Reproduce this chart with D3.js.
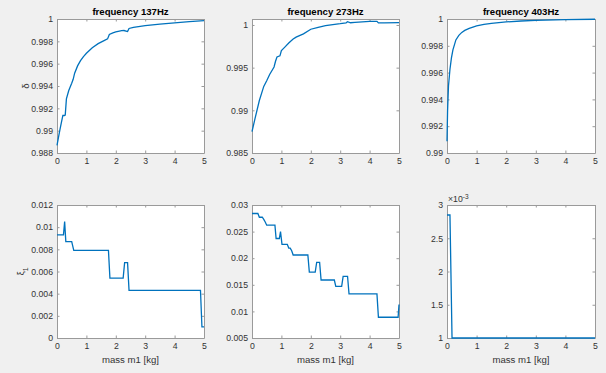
<!DOCTYPE html>
<html lang="en">
<head>
<meta charset="UTF-8">
<title>Delta and xi vs mass m1</title>
<style>
  body { margin: 0; background: #f0f0f0; }
  svg { display: block; font-family: "Liberation Sans", Arial, sans-serif; }
  .line { fill: none; stroke: #0072bd; stroke-width: 1.3px; }
  .tick-label { font-size: 8.7px; fill: #333; }
  .title { font-size: 9.6px; font-weight: bold; fill: #000; text-anchor: middle; }
  .label { font-size: 9.6px; fill: #333; text-anchor: middle; }
</style>
</head>
<body>
<svg width="606" height="373"></svg>
<script src="https://d3js.org/d3.v7.min.js"></script>
<script>
// x ticks shared by all panels
const massTicks = [0, 1, 2, 3, 4, 5];

// delta, 137 Hz
const mass137d = [0, 0.05, 0.1, 0.15, 0.2, 0.25, 0.28, 0.32, 0.4, 0.5, 0.55, 0.6, 0.7, 0.8, 0.9, 1.0, 1.2, 1.4, 1.6, 1.72, 1.78, 1.9, 2.0, 2.2, 2.28, 2.4, 2.45, 2.6, 3.0, 3.5, 4.0, 4.5, 5.0];
const delta137 = [0.98869, 0.9894, 0.9901, 0.99075, 0.99136, 0.99136, 0.9914, 0.99285, 0.9936, 0.99425, 0.9946, 0.99515, 0.9958, 0.99627, 0.99663, 0.99693, 0.99743, 0.99779, 0.99806, 0.99822, 0.99862, 0.99876, 0.99884, 0.99896, 0.99897, 0.99888, 0.99915, 0.99925, 0.9994, 0.99954, 0.99966, 0.99976, 0.99985];
const deltaTicks137 = [0.988, 0.99, 0.992, 0.994, 0.996, 0.998, 1];

// delta, 273 Hz
const mass273d = [0, 0.1, 0.25, 0.4, 0.5, 0.6, 0.75, 0.8, 0.85, 0.95, 1.0, 1.1, 1.25, 1.4, 1.5, 1.75, 2.0, 2.25, 2.5, 2.75, 3.0, 3.2, 3.25, 3.35, 3.5, 4.0, 4.25, 4.3, 4.5, 5.0];
const delta273 = [0.9875, 0.989, 0.99115, 0.9928, 0.99346, 0.9942, 0.99508, 0.99575, 0.99625, 0.99638, 0.997, 0.99735, 0.99788, 0.99835, 0.99858, 0.99896, 0.9995, 0.99972, 0.99992, 1.00005, 1.00015, 1.00025, 1.00038, 1.00026, 1.0003, 1.00042, 1.00042, 1.00025, 1.00025, 1.00028];
const deltaTicks273 = [0.985, 0.99, 0.995, 1];

// delta, 403 Hz
const mass403d = [0, 0.02, 0.05, 0.1, 0.15, 0.2, 0.3, 0.4, 0.5, 0.6, 0.75, 1.0, 1.25, 1.5, 2.0, 2.5, 3.0, 4.0, 5.0];
const delta403 = [0.99087, 0.9932, 0.995, 0.99625, 0.9971, 0.9977, 0.99844, 0.99878, 0.999, 0.99915, 0.9993, 0.99948, 0.9996, 0.99968, 0.99978, 0.99985, 0.9999, 0.99995, 0.99998];
const deltaTicks403 = [0.99, 0.992, 0.994, 0.996, 0.998, 1];

// xi1, 137 Hz
const mass137x = [0, 0.22, 0.26, 0.3, 0.5, 0.57, 1.75, 1.8, 2.25, 2.3, 2.4, 2.45, 4.88, 4.93, 5];
const xi137 = [0.0093, 0.0093, 0.0105, 0.0087, 0.0087, 0.0079, 0.0079, 0.0054, 0.0054, 0.0068, 0.0068, 0.0043, 0.0043, 0.001, 0.001];
const xiTicks137 = [0, 0.002, 0.004, 0.006, 0.008, 0.01, 0.012];

// xi1, 273 Hz
const mass273x = [0, 0.2, 0.25, 0.35, 0.4, 0.45, 0.5, 0.78, 0.82, 0.93, 0.97, 1.02, 1.2, 1.25, 1.3, 1.35, 1.4, 1.9, 1.95, 2.15, 2.2, 2.3, 2.35, 2.8, 2.85, 3.05, 3.1, 3.25, 3.3, 4.25, 4.3, 4.97, 5.0];
const xi273 = [0.0284, 0.0284, 0.0277, 0.0277, 0.0273, 0.0268, 0.0262, 0.0262, 0.0237, 0.0237, 0.025, 0.0226, 0.0226, 0.0219, 0.0219, 0.0214, 0.0206, 0.0206, 0.0174, 0.0174, 0.0192, 0.0192, 0.0159, 0.0159, 0.0147, 0.0147, 0.0166, 0.0166, 0.0133, 0.0133, 0.0089, 0.0089, 0.0113];
const xiTicks273 = [0.005, 0.01, 0.015, 0.02, 0.025, 0.03];

// xi1, 403 Hz (axis shown as x10^-3)
const mass403x = [0, 0.1, 0.17, 5];
const xi403 = [0.00285, 0.00285, 0.001, 0.001];
const xiTicks403 = [0.001, 0.0015, 0.002, 0.0025, 0.003];

const panels = [
  {x: mass137d, y: delta137, ticks: deltaTicks137, dom: [0.988, 1], box: [57, 19, 204, 153], title: "frequency 137Hz", ylab: "delta"},
  {x: mass273d, y: delta273, ticks: deltaTicks273, dom: [0.985, 1.0007], box: [252, 19, 399, 153], title: "frequency 273Hz"},
  {x: mass403d, y: delta403, ticks: deltaTicks403, dom: [0.99, 1], box: [447, 19, 595, 153], title: "frequency 403Hz"},
  {x: mass137x, y: xi137, ticks: xiTicks137, dom: [0, 0.012], box: [57, 205, 204, 338], ylab: "xi", xlab: true},
  {x: mass273x, y: xi273, ticks: xiTicks273, dom: [0.005, 0.03], box: [252, 205, 399, 338], xlab: true},
  {x: mass403x, y: xi403, ticks: xiTicks403, dom: [0.001, 0.003], box: [447, 205, 595, 338], xlab: true, scale: 1000}
];

const svg = d3.select("svg");
const fmt = v => String(+v.toFixed(6));

panels.forEach(function(p) {
  const [x0, y0, x1, y1] = p.box;
  const x = d3.scaleLinear().domain([0, 5]).range([x0, x1]);
  const y = d3.scaleLinear().domain(p.dom).range([y1, y0]);
  const g = svg.append("g");

  g.append("rect")
    .attr("x", x0).attr("y", y0)
    .attr("width", x1 - x0).attr("height", y1 - y0)
    .attr("fill", "#fff");

  // axes with inward ticks, mirrored on top/right
  const tl = 2.5;
  const lab = p.scale ? (v => fmt(v * p.scale)) : fmt;
  g.append("g").attr("transform", "translate(0," + y1 + ")")
    .call(d3.axisBottom(x).tickValues(massTicks).tickSizeInner(-tl).tickSizeOuter(0).tickPadding(5).tickFormat(fmt));
  g.append("g").attr("transform", "translate(0," + y0 + ")")
    .call(d3.axisTop(x).tickValues(massTicks).tickSizeInner(-tl).tickSizeOuter(0).tickFormat(""));
  g.append("g").attr("transform", "translate(" + x0 + ",0)")
    .call(d3.axisLeft(y).tickValues(p.ticks).tickSizeInner(-tl).tickSizeOuter(0).tickPadding(4).tickFormat(lab));
  g.append("g").attr("transform", "translate(" + x1 + ",0)")
    .call(d3.axisRight(y).tickValues(p.ticks).tickSizeInner(-tl).tickSizeOuter(0).tickFormat(""));

  g.selectAll(".domain").attr("stroke", "#9a9a9a").attr("stroke-width", 1);
  g.selectAll(".tick line").attr("stroke", "#9a9a9a").attr("stroke-width", 1);
  g.selectAll(".tick text").attr("class", "tick-label").attr("font-size", null).attr("font-family", null);

  const line = d3.line()
    .x(function(d, i) { return x(p.x[i]); })
    .y(function(d) { return y(d); });
  g.append("path")
    .datum(p.y)
    .attr("class", "line")
    .attr("d", line);

  if (p.title) {
    g.append("text").attr("class", "title")
      .attr("x", (x0 + x1) / 2).attr("y", y0 - 4.5)
      .text(p.title);
  }
  if (p.xlab) {
    g.append("text").attr("class", "label")
      .attr("x", (x0 + x1) / 2).attr("y", y1 + 25)
      .text("mass m1 [kg]");
  }
  if (p.ylab === "delta") {
    g.append("text").attr("class", "label")
      .attr("transform", "translate(29," + ((y0 + y1) / 2) + ") rotate(-90)")
      .text("δ");
  }
  if (p.ylab === "xi") {
    const t = g.append("text").attr("class", "label")
      .attr("transform", "translate(24," + ((y0 + y1) / 2) + ") rotate(-90)");
    t.append("tspan").text("ξ");
    t.append("tspan").attr("baseline-shift", "sub").attr("font-size", "7px").text("1");
  }
  if (p.scale) {
    const t = g.append("text").attr("class", "tick-label")
      .attr("x", x0 + 1).attr("y", y0 - 3);
    t.append("tspan").text("×10");
    t.append("tspan").attr("baseline-shift", "super").attr("font-size", "6.5px").text("-3");
  }
});
</script>
</body>
</html>
